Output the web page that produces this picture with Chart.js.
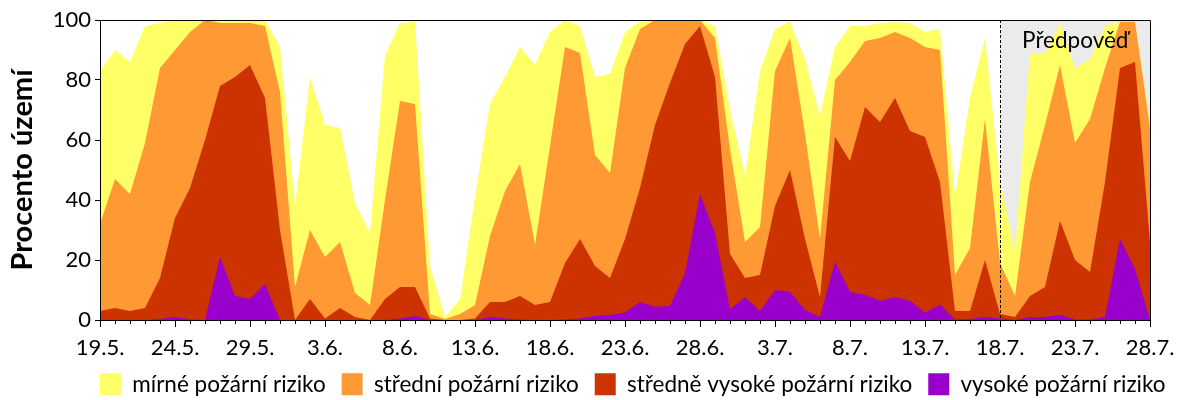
<!DOCTYPE html>
<html lang="cs">
<head>
<meta charset="utf-8">
<script src="https://cdn.jsdelivr.net/npm/chart.js@4/dist/chart.umd.min.js"></script>
<style>
html,body{margin:0;padding:0;background:#fff;overflow:hidden;}
#wrap{position:relative;width:1200px;height:400px;}
</style>
</head>
<body>
<div id="wrap"><canvas id="chart" width="1200" height="400"></canvas></div>
<script>
// ---- categories (days) ----
const categories = [
  "19.5.","20.5.","21.5.","22.5.","23.5.","24.5.","25.5.","26.5.","27.5.","28.5.","29.5.","30.5.","31.5.",
  "1.6.","2.6.","3.6.","4.6.","5.6.","6.6.","7.6.","8.6.","9.6.","10.6.","11.6.","12.6.","13.6.","14.6.","15.6.",
  "16.6.","17.6.","18.6.","19.6.","20.6.","21.6.","22.6.","23.6.","24.6.","25.6.","26.6.","27.6.","28.6.","29.6.","30.6.",
  "1.7.","2.7.","3.7.","4.7.","5.7.","6.7.","7.7.","8.7.","9.7.","10.7.","11.7.","12.7.","13.7.","14.7.","15.7.",
  "16.7.","17.7.","18.7.","19.7.","20.7.","21.7.","22.7.","23.7.","24.7.","25.7.","26.7.","27.7.","28.7."
];
// ---- tick labels ----
const tickLabels = ["19.5.","24.5.","29.5.","3.6.","8.6.","13.6.","18.6.","23.6.","28.6.","3.7.","8.7.","13.7.","18.7.","23.7.","28.7."];
const yTicks = [0, 20, 40, 60, 80, 100];
const seriesNames = ["mírné požární riziko", "střední požární riziko", "středně vysoké požární riziko", "vysoké požární riziko"];
const axisTitle = "Procento území";
const forecastStart = "18.7.";
const forecastLabel = "Předpověď";

// ---- series values (% of territory, per class) ----
const mirne = [51,43,44,39,15,10,4,0,1,1,1,2,15,27,51,44,38,30,24,48,26,27.5,16,0.7,5,36,44,38,39,60,38,9,9,26,33,12,2.4,0,0,0,0,4,13,22,52,14,5.4,25,41,11,12,5,5,3.4,5,5,7,26,50,27,27,15,43,24,14,25,20,14,0,0,1];
const stredni = [29,43,39,55,70,56,52,40,21,18,14,24,46,11,23,20.5,22,8,5,33,62,61,1.5,0.3,2,4.5,22,37,44,20,52,72,62,37,35,57,53,35,21,8,2,13,35,12,16,45,44,35,19.4,19,33,22,28,22,31,30,44,12,21,47,17,7,38,54,52,39,51,38,15.4,13.4,38];
const stredneVysoke = [3,4,3,4,13.7,33,43.8,60,57,73,78,62,30,0,7,0.5,4,1,0,7,10.5,9.7,0.5,0,0,0.5,5,5.5,7.8,5,6,18.8,26.5,16.7,12.3,24.5,38,60.6,74.3,76.4,56,52,18.4,6.4,12,28,40.6,23.7,6.6,41.6,43.6,62.7,59.6,66.4,56.6,58.6,40.8,2.8,2.7,19,1.5,1,7,10,31.3,19.8,15.8,45,57,69,26];
const vysoke = [0,0,0,0,0.3,1,0.2,0,21,8,7,12,0,0,0,0,0,0,0,0,0.5,1.3,0,0,0,0,1,0.5,0.2,0,0,0.2,0.5,1.3,1.7,2.5,6,4.4,4.7,15.6,42,29,3.6,7.6,3,10,9.4,3.3,1,19.4,9.4,8.3,6.4,7.6,6.4,2.4,5.2,0.2,0.3,1,0.5,0,1,1,1.7,0.2,0.2,1,27,17,0];

const FONT = "Lato, 'Open Sans', 'DejaVu Sans', sans-serif";
Chart.defaults.font.family = FONT;
Chart.defaults.color = '#000';

const COLORS = ['#FFFF66', '#FF9933', '#CC3300', '#9900CC'];

function ds(label, data, color) {
  return {label, data, backgroundColor: color, borderColor: color, borderWidth: 0,
          pointRadius: 0, pointHoverRadius: 0, tension: 0, fill: 'origin'};
}

const LEGEND_H = 36;

const decor = {
  id: 'decor',
  afterLayout(chart) {
    const lg = chart.legend;
    if (!lg) return;
    const pad = lg.options.labels.padding;
    lg.left = 100 - pad;
    lg.right = 1500;
    lg.width = lg.right - lg.left;
    lg.top = 373 - pad;
    lg.bottom = 400;
    lg.height = lg.bottom - lg.top;
  },
  beforeDatasetsDraw(chart) {
    const {ctx, chartArea: a, scales: {x}} = chart;
    const xs = x.getPixelForValue(categories.indexOf(forecastStart));
    ctx.save();
    ctx.fillStyle = '#EBEBEB';
    ctx.fillRect(xs, a.top, a.right - xs, a.bottom - a.top);
    ctx.restore();
  },
  afterDatasetsDraw(chart) {
    const {ctx, chartArea: a, scales: {x}} = chart;
    const xs = Math.round(x.getPixelForValue(categories.indexOf(forecastStart))) + 0.5;
    ctx.save();
    ctx.strokeStyle = '#000';
    ctx.lineWidth = 1;
    ctx.setLineDash([3, 2]);
    ctx.beginPath(); ctx.moveTo(xs, a.top); ctx.lineTo(xs, a.bottom); ctx.stroke();
    ctx.setLineDash([]);
    // frame
    const l = Math.round(a.left) + 0.5, t = Math.round(a.top) + 0.5;
    const r = Math.round(a.right) + 0.5, b = Math.round(a.bottom) + 0.5;
    ctx.beginPath();
    ctx.moveTo(l, t); ctx.lineTo(r, t); ctx.lineTo(r, b); ctx.lineTo(l, b); ctx.closePath();
    ctx.stroke();
    // minor ticks on x axis
    ctx.beginPath();
    categories.forEach((c, i) => {
      if (tickLabels.includes(c)) return;
      const px = Math.round(x.getPixelForValue(i)) + 0.5;
      ctx.moveTo(px, b); ctx.lineTo(px, b + 3.5);
    });
    ctx.stroke();
    // forecast label
    ctx.fillStyle = '#000';
    ctx.font = '22.5px ' + FONT;
    ctx.textAlign = 'center';
    ctx.textBaseline = 'alphabetic';
    ctx.fillText(forecastLabel, (xs + a.right) / 2, a.top + 28);
    ctx.restore();
  }
};

new Chart(document.getElementById('chart'), {
  type: 'line',
  data: {
    labels: categories,
    datasets: [
      ds(seriesNames[3], vysoke, COLORS[3]),
      ds(seriesNames[2], stredneVysoke, COLORS[2]),
      ds(seriesNames[1], stredni, COLORS[1]),
      ds(seriesNames[0], mirne, COLORS[0])
    ]
  },
  plugins: [decor],
  options: {
    responsive: false,
    animation: false,
    events: [],
    layout: {padding: {top: 20, left: 0, right: 0, bottom: 0}},
    plugins: {
      tooltip: {enabled: false},
      legend: {
        position: 'bottom', align: 'start', reverse: true, maxHeight: LEGEND_H,
        labels: {boxWidth: 21, boxHeight: 22, padding: 16, font: {size: 22.5}, color: '#000'}
      }
    },
    scales: {
      x: {
        offset: false,
        afterFit: s => { s.height = 80 - LEGEND_H; },
        border: {display: false},
        grid: {drawOnChartArea: false, drawTicks: true, tickLength: 7,
               tickColor: c => tickLabels.includes(categories[c.index]) ? '#000' : 'rgba(0,0,0,0)'},
        ticks: {autoSkip: false, maxRotation: 0, minRotation: 0, padding: 8, font: {size: 22}, color: '#000',
                callback: (v, i) => tickLabels.includes(categories[i]) ? categories[i] : ''}
      },
      y: {
        stacked: true, min: 0, max: 100,
        afterBuildTicks: s => { s.ticks = yTicks.map(v => ({value: v})); },
        afterFit: s => { s.width = 100; },
        border: {display: false},
        grid: {drawOnChartArea: false, drawTicks: true, tickLength: 5, color: '#000'},
        ticks: {font: {size: 22}, padding: 4, color: '#000'},
        title: {display: true, text: axisTitle, font: {size: 29, weight: 'bold'}, padding: {top: 5, bottom: 0}, color: '#000'}
      },
      yR: {
        position: 'right', display: true,
        afterFit: s => { s.width = 50; },
        grid: {display: false}, ticks: {display: false}, border: {display: false}
      }
    }
  }
});
</script>
</body>
</html>
